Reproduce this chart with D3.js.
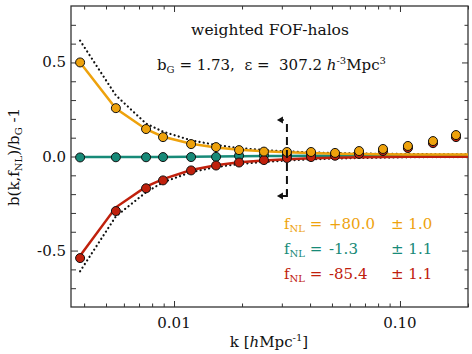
<!DOCTYPE html>
<html>
<head>
<meta charset="utf-8">
<script src="https://cdn.jsdelivr.net/npm/d3@7"></script>
<style>
  body { margin: 0; background: #fff; }
  svg text { font-family: "DejaVu Serif", serif; fill: #111; }
</style>
</head>
<body>
<div id="chart"></div>
<script>
// k bins [h/Mpc]
var kBins = [0.00384, 0.00553, 0.00752, 0.00894, 0.0119, 0.01535, 0.0194, 0.025,
  0.0316, 0.0404, 0.0516, 0.0659, 0.0841, 0.1084, 0.140, 0.177];
// model curves also run to the right edge
var kModel = kBins.concat([0.2]);

// measured b(k,fNL)/bG - 1
var ptsPos = [0.500, 0.257, 0.146, 0.103, 0.066, 0.050, 0.034, 0.026,
  0.024, 0.024, 0.019, 0.029, 0.040, 0.056, 0.082, 0.114];
var ptsZero = [-0.005, -0.004, -0.004, -0.003, -0.003, -0.002, 0.004, 0.006,
  0.008, 0.012, 0.010, 0.018, 0.034, 0.050, 0.076, 0.108];
var ptsNeg = [-0.540, -0.290, -0.169, -0.127, -0.074, -0.048, -0.032, -0.019,
  -0.008, -0.003, 0.004, 0.014, 0.029, 0.045, 0.071, 0.103];
var errs = [0.012, 0.010, 0.008, 0.007, 0.006, 0.005, 0.005, 0.004,
  0.004, 0.004, 0.004, 0.004, 0.004, 0.004, 0.004, 0.004];

// fitted model (solid)
var fitPos = [0.500, 0.255, 0.145, 0.105, 0.068, 0.048, 0.036, 0.028,
  0.022, 0.018, 0.015, 0.013, 0.012, 0.011, 0.010, 0.010, 0.010];
var fitZero = [-0.003, -0.003, -0.002, -0.002, -0.001, 0.000, 0.001, 0.002,
  0.003, 0.004, 0.004, 0.005, 0.005, 0.005, 0.005, 0.005, 0.005];
var fitNeg = [-0.527, -0.270, -0.160, -0.120, -0.072, -0.046, -0.031, -0.021,
  -0.014, -0.009, -0.006, -0.004, -0.002, -0.001, -0.001, -0.001, -0.001];

// theory prediction (dotted)
var theoPos = [0.616, 0.325, 0.175, 0.132, 0.086, 0.061, 0.045, 0.034,
  0.027, 0.022, 0.018, 0.016, 0.014, 0.013, 0.012, 0.012, 0.012];
var theoNeg = [-0.610, -0.318, -0.190, -0.137, -0.083, -0.056, -0.040, -0.029,
  -0.021, -0.015, -0.011, -0.008, -0.006, -0.004, -0.003, -0.003, -0.003];

var fnlValues = ["+80.0", "-1.3", "-85.4"];
var fnlErrors = ["1.0", "1.1", "1.1"];
var colors = ["#eea20c", "#178a78", "#c0200c"];

var xMajor = [0.01, 0.1];
var xMinor = [0.004, 0.005, 0.006, 0.007, 0.008, 0.009, 0.02, 0.03, 0.04,
  0.05, 0.06, 0.07, 0.08, 0.09, 0.2];
var xLabels = ["0.01", "0.10"];
var yMajor = [-0.5, 0, 0.5];
var yMinor = [-0.7, -0.6, -0.4, -0.3, -0.2, -0.1, 0.1, 0.2, 0.3, 0.4, 0.6, 0.7];
var yLabels = ["-0.5", "0.0", "0.5"];
var kCut = 0.0316;

var W = 472, H = 354;
var margin = { top: 6, right: 4, bottom: 47, left: 71 };

var svg = d3.select("#chart").append("svg")
  .attr("width", W).attr("height", H);

var x = d3.scaleLog().domain([0.0035, 0.2])
  .range([margin.left, W - margin.right]);
var y = d3.scaleLinear().domain([-0.8, 0.8])
  .range([H - margin.bottom, margin.top]);

//frame
svg.append("rect")
  .attr("x", margin.left).attr("y", margin.top)
  .attr("width", W - margin.left - margin.right)
  .attr("height", H - margin.top - margin.bottom)
  .attr("fill", "none").attr("stroke", "#333").attr("stroke-width", 1.3);

// ticks pointing inward on all four sides
function tickAxis(axisFn, scale, vals, size, tx, ty) {
  svg.append("g")
    .attr("transform", "translate(" + tx + "," + ty + ")")
    .call(axisFn(scale).tickValues(vals).tickSize(-size).tickFormat(""))
    .call(function (g) {
      g.select(".domain").remove();
      g.selectAll("line").attr("stroke", "#333");
    });
}
var bottomY = H - margin.bottom, rightX = W - margin.right;
tickAxis(d3.axisBottom, x, xMajor, 6, 0, bottomY);
tickAxis(d3.axisBottom, x, xMinor, 3.5, 0, bottomY);
tickAxis(d3.axisTop, x, xMajor, 6, 0, margin.top);
tickAxis(d3.axisTop, x, xMinor, 3.5, 0, margin.top);
tickAxis(d3.axisLeft, y, yMajor, 7, margin.left, 0);
tickAxis(d3.axisLeft, y, yMinor, 5, margin.left, 0);
tickAxis(d3.axisRight, y, yMajor, 6, rightX, 0);
tickAxis(d3.axisRight, y, yMinor, 3.5, rightX, 0);

// tick labels
svg.selectAll(".xlab").data(xMajor).enter().append("text")
  .attr("x", function (d) { return x(d); }).attr("y", 328)
  .attr("text-anchor", "middle").attr("font-size", 15)
  .text(function (d, i) { return xLabels[i]; });
svg.selectAll(".ylab").data(yMajor).enter().append("text")
  .attr("x", 66).attr("y", function (d) { return y(d) + 5; })
  .attr("text-anchor", "end").attr("font-size", 15)
  .text(function (d, i) { return yLabels[i]; });

// axis titles
var xt = svg.append("text").attr("x", 269).attr("y", 347)
  .attr("text-anchor", "middle").attr("font-size", 15);
xt.append("tspan").text("k [");
xt.append("tspan").attr("font-style", "italic").text("h");
xt.append("tspan").text("Mpc");
xt.append("tspan").attr("font-size", 10).attr("dy", -6).text("-1");
xt.append("tspan").attr("dy", 6).text("]");

var yt = svg.append("text")
  .attr("transform", "translate(19,157) rotate(-90)")
  .attr("text-anchor", "middle").attr("font-size", 15);
yt.append("tspan").text("b(k,f");
yt.append("tspan").attr("font-size", 10).attr("dy", 3).text("NL");
yt.append("tspan").attr("dy", -3).text(")/b");
yt.append("tspan").attr("font-size", 10).attr("dy", 3).text("G");
yt.append("tspan").attr("dy", -3).text(" -1");

// lines
var line = d3.line()
  .x(function (d, i) { return x(kModel[i]); })
  .y(function (d) { return y(d); });

[theoPos, theoNeg].forEach(function (s) {
  svg.append("path").datum(s).attr("d", line)
    .attr("fill", "none").attr("stroke", "#111")
    .attr("stroke-width", 2.2).attr("stroke-linecap", "round")
    .attr("stroke-dasharray", "0.1,4.2");
});
[fitZero, fitNeg, fitPos].forEach(function (s, i) {
  var c = [colors[1], colors[2], colors[0]][i];
  svg.append("path").datum(s).attr("d", line)
    .attr("fill", "none").attr("stroke", c).attr("stroke-width", 2.5);
});

// points with error bars
function drawPoints(vals, color) {
  var g = svg.append("g");
  var pts = vals.map(function (v, i) { return { k: kBins[i], v: v, e: errs[i] }; });
  g.selectAll(".eb").data(pts).enter().append("path")
    .attr("d", function (d) {
      var px = x(d.k), y0 = y(d.v - d.e), y1 = y(d.v + d.e);
      return "M" + px + "," + y0 + "V" + y1 +
        "M" + (px - 3) + "," + y0 + "H" + (px + 3) +
        "M" + (px - 3) + "," + y1 + "H" + (px + 3);
    })
    .attr("stroke", "#111").attr("stroke-width", 1).attr("fill", "none");
  g.selectAll("circle").data(pts).enter().append("circle")
    .attr("cx", function (d) { return x(d.k); })
    .attr("cy", function (d) { return y(d.v); })
    .attr("r", 4.5)
    .attr("fill", color).attr("stroke", "#111").attr("stroke-width", 1);
}
drawPoints(ptsZero, colors[1]);
drawPoints(ptsNeg, colors[2]);
drawPoints(ptsPos, colors[0]);

// k cut marker
var cx = x(kCut);
svg.append("line")
  .attr("x1", cx).attr("x2", cx).attr("y1", 124).attr("y2", 194)
  .attr("stroke", "#111").attr("stroke-width", 2).attr("stroke-dasharray", "8,5");
svg.append("path")
  .attr("d", "M" + cx + ",190V196H" + (cx - 6))
  .attr("stroke", "#111").attr("stroke-width", 2).attr("fill", "none");
[120, 196].forEach(function (ay) {
  svg.append("path")
    .attr("d", "M" + (cx - 10) + "," + ay + "l6,-3.5v7z").attr("fill", "#111");
});
svg.append("line")
  .attr("x1", cx - 5).attr("x2", cx - 3).attr("y1", 120).attr("y2", 120)
  .attr("stroke", "#111").attr("stroke-width", 1.5);

// titles
svg.append("text").attr("x", 270).attr("y", 35).attr("text-anchor", "middle")
  .attr("font-size", 15.5).text("weighted FOF-halos");
var sub = svg.append("text").attr("x", 157).attr("y", 70).attr("font-size", 15);
sub.append("tspan").text("b");
sub.append("tspan").attr("font-size", 10).attr("dy", 3).text("G");
sub.append("tspan").attr("dy", -3).attr("xml:space", "preserve").text(" = 1.73,  \u03b5 =  307.2 ");
sub.append("tspan").attr("font-style", "italic").text("h");
sub.append("tspan").attr("font-size", 10).attr("dy", -6).text("-3");
sub.append("tspan").attr("dy", 6).text("Mpc");
sub.append("tspan").attr("font-size", 10).attr("dy", -6).text("3");

// legend
var legY = [229, 254, 279];
fnlValues.forEach(function (v, i) {
  var t = svg.append("text").attr("x", 284).attr("y", legY[i])
    .attr("font-size", 15).style("fill", colors[i]);
  t.append("tspan").text("f");
  t.append("tspan").attr("font-size", 10).attr("dy", 3).text("NL");
  t.append("tspan").attr("dy", -3).text(" =");
  svg.append("text").attr("x", 329).attr("y", legY[i])
    .attr("font-size", 15).style("fill", colors[i]).text(v);
  svg.append("text").attr("x", 391).attr("y", legY[i])
    .attr("font-size", 15).style("fill", colors[i]).text("\u00b1 " + fnlErrors[i]);
});
</script>
</body>
</html>
